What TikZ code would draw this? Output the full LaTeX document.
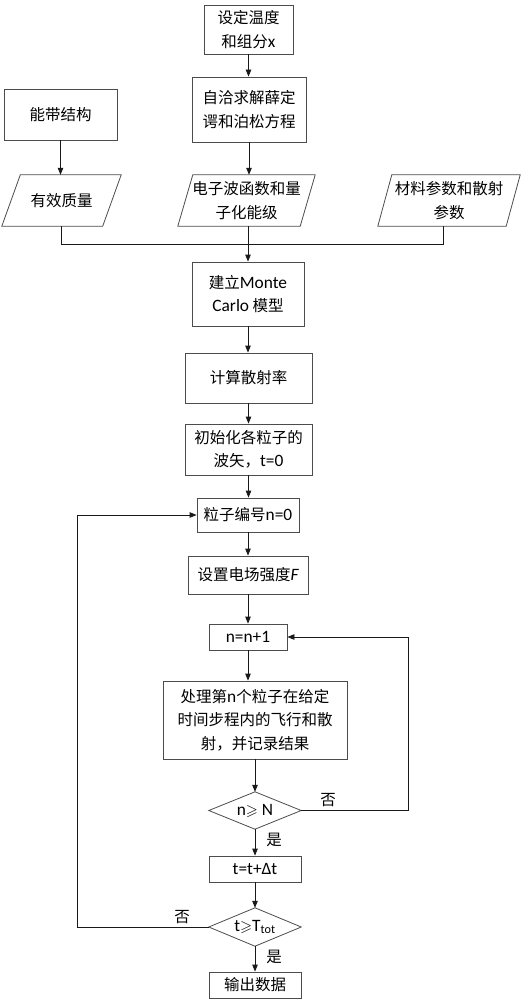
\documentclass[tikz,border=0pt]{standalone}
\usepackage{amssymb}
\usepackage{fontspec}
\setmainfont{Noto Sans CJK SC}
\newfontfamily\latfont[Scale=1.12]{Carlito}
\newcommand\la[1]{{\latfont #1}}
\usetikzlibrary{arrows.meta,calc}
\begin{document}
\begin{tikzpicture}[x=1pt,y=-1pt,
  font=\fontsize{15.5}{23.5}\selectfont,
  bx/.style={draw=black!70, line width=0.8pt, inner sep=0pt, align=center},
  pa/.style={inner sep=0pt, align=center},
  sz/.style n args={2}{minimum width=#1pt, minimum height=#2pt},
  bdr/.style={draw=black!70, line width=0.8pt},
  ln/.style={line width=0.8pt, draw=black!90},
  ar/.style={ln, -{Triangle[length=7pt,width=5.5pt]}},
  lab/.style={inner sep=0pt}]
\useasboundingbox (0,0) rectangle (530,1000);

% nodes
\node[bx, sz={89}{49}] (n1) at (248.5,29.5) {设定温度\\和组分\la{x}};
\node[bx, sz={114}{65}] (n2) at (249,109.5) {自洽求解薛定\\谔和泊松方程};
\node[bx, sz={113}{51}] (n3) at (60.5,114.5) {能带结构};

\node[pa, sz={119}{51}] (p1) at (61.5,200.5) {有效质量};
\node[pa, sz={137}{51}] (p2) at (246.5,200.5) {电子波函数和量\\子化能级};
\node[pa, sz={142}{51}] (p3) at (449,200.5) {材料参数和散射\\参数};
\draw[bdr] ($(p1.north west)+(18.5,0)$) -- (p1.north east) -- ($(p1.south east)+(-18.5,0)$) -- (p1.south west) -- cycle;
\draw[bdr] ($(p2.north west)+(15,0)$) -- (p2.north east) -- ($(p2.south east)+(-15,0)$) -- (p2.south west) -- cycle;
\draw[bdr] ($(p3.north west)+(14,0)$) -- (p3.north east) -- ($(p3.south east)+(-14,0)$) -- (p3.south west) -- cycle;

\node[bx, sz={112}{64}] (n4) at (248,294) {建立\la{Monte}\\\la{Carlo} 模型};
\node[bx, sz={127}{50}] (n5) at (248.5,378) {计算散射率};
\node[bx, sz={127}{51}] (n6) at (248.5,449.5) {初始化各粒子的\\波矢，\la{t=0}};
\node[bx, sz={102}{34}] (n7) at (248,515) {粒子编号\la{n=0}};
\node[bx, sz={120}{38}] (n8) at (248,575) {设置电场强度\la{\itshape F}};
\node[bx, sz={78}{26}] (n9) at (248,637) {\la{n=n+1}};
\node[bx, sz={184}{78}] (n10) at (255,720) {处理第\la{n}个粒子在给定\\时间步程内的飞行和散\\射，并记录结果};

\node[pa, sz={92}{37}] (d1) at (255,810.5) {\la{n}$\geqslant$\la{ N}};
\draw[bdr] (d1.north) -- (d1.east) -- (d1.south) -- (d1.west) -- cycle;
\node[bx, sz={92}{26}] (n11) at (255,869) {\la{t=t+Δt}};
\node[pa, sz={92}{38}] (d2) at (255,927) {\la{t}$\geqslant$\la{T\textsubscript{tot}}};
\draw[bdr] (d2.north) -- (d2.east) -- (d2.south) -- (d2.west) -- cycle;
\node[bx, sz={92}{26}] (n12) at (255,985) {输出数据};

% connectors
\draw[ar] (n1.south) -- (n1.south |- n2.north);
\draw[ar] (n3.south) -- (n3.south |- p1.north);
\draw[ar] (n2.south) -- (n2.south |- p2.north);

\coordinate (j) at (248,244);
\draw[ln] (p1.south) |- (j);
\draw[ln] ([xshift=-6pt]p3.south) |- (j);
\draw[ln] (p2.south -| j) -- (j);
\draw[ar] (j) -- (j |- n4.north);

\draw[ar] (n4.south) -- (n4.south |- n5.north);
\draw[ar] (n5.south) -- (n5.south |- n6.north);
\draw[ar] (n6.south) -- (n6.south |- n7.north);
\draw[ar] (n7.south) -- (n7.south |- n8.north);
\draw[ar] (n8.south) -- (n8.south |- n9.north);
\draw[ar] (n9.south) -- (n9.south |- n10.north);
\draw[ar] (n10.south) -- (d1.north);
\draw[ar] (d1.south) -- (n11.north);
\draw[ar] (n11.south) -- (d2.north);
\draw[ar] (d2.south) -- (n12.north);

\coordinate (rr) at (408,637);
\coordinate (ll) at (77,515);
\draw[ar] (d1.east) -- (d1.east -| rr) |- (n9.east);
\draw[ar] (d2.west) -- (d2.west -| ll) |- (n7.west);

\node[lab] (l1) at (328,800) {否};
\node[lab] (l2) at (274,840) {是};
\node[lab] (l3) at (182,917) {否};
\node[lab] (l4) at (274,957) {是};
\end{tikzpicture}
\end{document}
